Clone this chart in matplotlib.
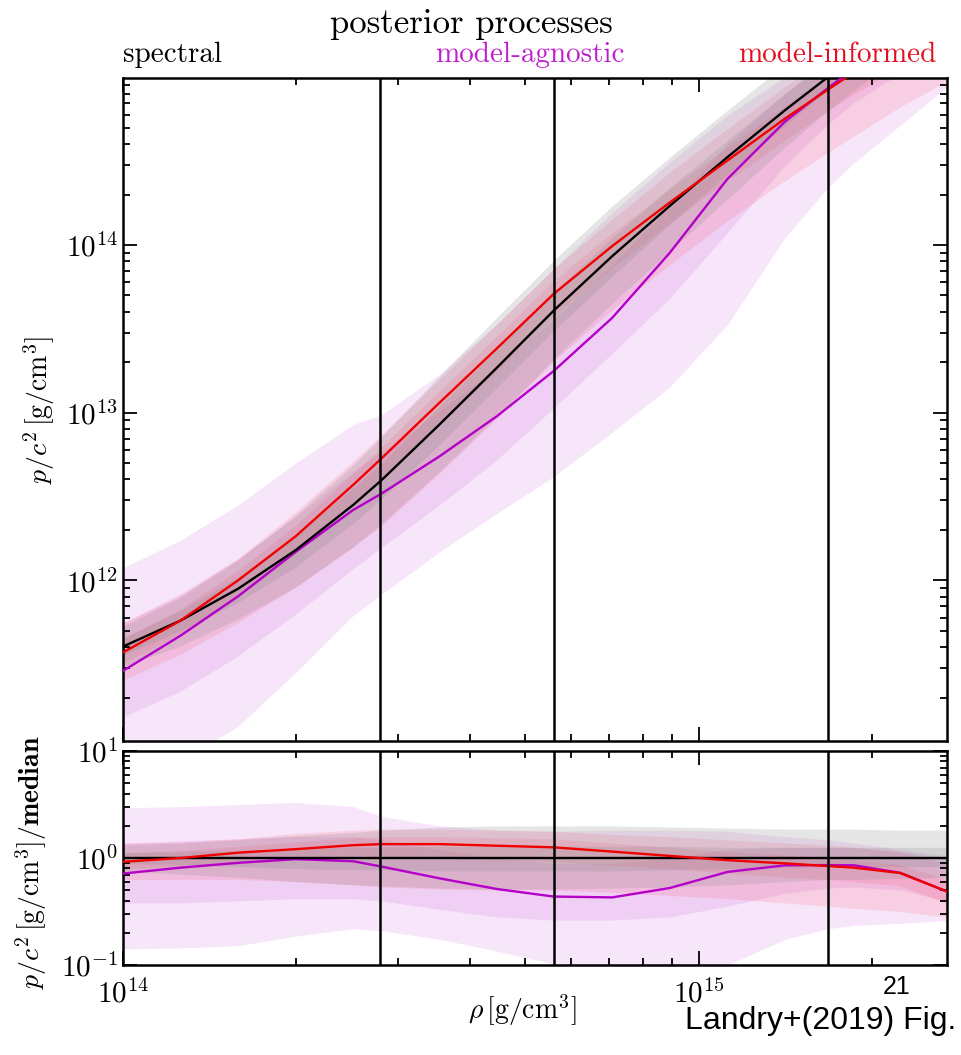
import numpy as np
import matplotlib
matplotlib.use("Agg")
import matplotlib.pyplot as plt

# Computer Modern look for all text on the axes
plt.rcParams.update({
    "font.family": "serif",
    "font.serif": ["cmr10"],
    "mathtext.fontset": "cm",
    "axes.formatter.use_mathtext": True,
    "axes.unicode_minus": False,
})

# density grid, log10(rho [g/cm^3])
log_rho = [14.00, 14.10, 14.20, 14.30, 14.40, 14.449, 14.55, 14.65, 14.748,
           14.85, 14.95, 15.05, 15.15, 15.225, 15.27, 15.35, 15.43]

# spectral median, log10(p/c^2 [g/cm^3])
spec_med = [11.605, 11.760, 11.950, 12.180, 12.450, 12.597, 12.930, 13.270, 13.608,
            13.934, 14.234, 14.524, 14.804, 15.003, 15.120, 15.324, 15.524]

# everything below: log10 of ratio to the spectral median
spec_in_lo = [-0.05, -0.06, -0.08, -0.10, -0.11, -0.11, -0.12, -0.12, -0.12,
              -0.12, -0.11, -0.10, -0.09, -0.08, -0.08, -0.08, -0.08]
spec_in_hi = [0.05, 0.06, 0.07, 0.09, 0.10, 0.10, 0.11, 0.11, 0.11,
              0.11, 0.11, 0.10, 0.10, 0.10, 0.10, 0.10, 0.10]
spec_out_lo = [-0.12, -0.15, -0.18, -0.22, -0.25, -0.26, -0.28, -0.29, -0.29,
               -0.28, -0.27, -0.25, -0.22, -0.20, -0.20, -0.19, -0.18]
spec_out_hi = [0.12, 0.14, 0.17, 0.21, 0.24, 0.26, 0.29, 0.30, 0.30,
               0.30, 0.29, 0.28, 0.27, 0.27, 0.27, 0.26, 0.26]

agn_med = [-0.145, -0.090, -0.045, -0.010, -0.030, -0.080, -0.190, -0.290, -0.360,
           -0.368, -0.280, -0.130, -0.068, -0.066, -0.068, -0.138, -0.310]
agn_in_lo = [-0.42, -0.42, -0.40, -0.38, -0.38, -0.40, -0.48, -0.55, -0.58,
             -0.58, -0.55, -0.45, -0.33, -0.28, -0.27, -0.30, -0.40]
agn_in_hi = [0.14, 0.16, 0.18, 0.20, 0.20, 0.17, 0.08, 0.00, -0.05,
             -0.05, 0.00, 0.08, 0.10, 0.10, 0.10, 0.06, 0.00]
agn_out_lo = [-0.85, -0.84, -0.82, -0.73, -0.66, -0.68, -0.76, -0.87, -0.99,
              -1.05, -1.08, -1.00, -0.76, -0.66, -0.63, -0.61, -0.585]
agn_out_hi = [0.47, 0.48, 0.50, 0.52, 0.48, 0.39, 0.30, 0.26, 0.25,
              0.26, 0.26, 0.25, 0.20, 0.17, 0.14, 0.08, 0.02]

inf_med = [-0.035, 0.000, 0.050, 0.083, 0.120, 0.130, 0.130, 0.115, 0.100,
           0.060, 0.020, -0.020, -0.050, -0.075, -0.090, -0.140, -0.310]
inf_in_lo = [-0.10, -0.08, -0.05, -0.02, 0.00, 0.00, 0.00, -0.02, -0.03,
             -0.07, -0.10, -0.14, -0.18, -0.20, -0.22, -0.26, -0.42]
inf_in_hi = [0.05, 0.07, 0.11, 0.15, 0.19, 0.20, 0.20, 0.19, 0.18,
             0.14, 0.10, 0.06, 0.03, 0.00, -0.02, -0.06, -0.20]
inf_out_lo = [-0.20, -0.20, -0.20, -0.22, -0.25, -0.27, -0.29, -0.30, -0.30,
              -0.32, -0.35, -0.38, -0.42, -0.45, -0.47, -0.50, -0.55]
inf_out_hi = [0.14, 0.15, 0.18, 0.23, 0.26, 0.27, 0.27, 0.26, 0.25,
              0.22, 0.20, 0.17, 0.14, 0.12, 0.10, 0.06, -0.05]

# 1, 2 and 6 times nuclear saturation density
ref_rho = [2.8e14, 5.6e14, 1.68e15]

c_spec = "black"
c_agn = "#b400c8"
c_inf = "#f00000"

rho = 10 ** np.array(log_rho)
p_spec = 10 ** np.array(spec_med)

fig = plt.figure(figsize=(9.61, 10.55), dpi=100)
ax = fig.add_axes([0.128, 0.2976, 0.8574, 0.6284])
axr = fig.add_axes([0.128, 0.0853, 0.8574, 0.2028], sharex=ax)

processes = [
    (agn_out_lo, agn_out_hi, agn_in_lo, agn_in_hi, "#cf5fdc", 0.16),
    (inf_out_lo, inf_out_hi, inf_in_lo, inf_in_hi, "#ff3a4a", 0.13),
    (spec_out_lo, spec_out_hi, spec_in_lo, spec_in_hi, "#8a8a8a", 0.22),
]

for a, scale in [(ax, p_spec), (axr, 1.0)]:
    for olo, ohi, ilo, ihi, col, al in processes:
        a.fill_between(rho, scale * 10 ** np.array(olo), scale * 10 ** np.array(ohi),
                       color=col, alpha=al, lw=0)
        a.fill_between(rho, scale * 10 ** np.array(ilo), scale * 10 ** np.array(ihi),
                       color=col, alpha=al, lw=0)
    a.plot(rho, scale * 10 ** np.array(agn_med), color=c_agn, lw=1.7, zorder=3)
    a.plot(rho, scale * p_spec / p_spec, color=c_spec, lw=1.7, zorder=3)
    a.plot(rho, scale * 10 ** np.array(inf_med), color=c_inf, lw=1.7, zorder=3)
    for r in ref_rho:
        a.axvline(r, color="black", lw=1.8, zorder=4)
    a.set_xscale("log")
    a.set_yscale("log")
    a.tick_params(which="both", direction="in", top=True, right=True,
                  labelsize=21, width=1.3)
    a.tick_params(which="major", length=10)
    a.tick_params(which="minor", length=5)
    for s in a.spines.values():
        s.set_linewidth(1.8)

ax.set_xlim(1e14, 2.7e15)
ax.set_ylim(1.1e11, 9.9e14)
axr.set_ylim(0.1, 10)
ax.tick_params(labelbottom=False)
axr.tick_params(axis="x", which="major", pad=10)

ax.set_ylabel(r"$p/c^2\,[\mathrm{g/cm^3}]$", fontsize=20)
ax.yaxis.set_label_coords(-0.08, 0.5)
axr.set_ylabel(r"$p/c^2\,[\mathrm{g/cm^3}]/\mathbf{median}$", fontsize=20)
axr.yaxis.set_label_coords(-0.09, 0.48)
fig.text(0.543, 1 - 1010 / 1055, r"$\rho\,[\mathrm{g/cm^3}]$", fontsize=20,
         ha="center", va="center")

fig.text(0.49, 0.9687, "posterior processes", fontsize=25, ha="center", va="baseline")
fig.text(0.128, 0.9412, "spectral", fontsize=21, color=c_spec, ha="left", va="baseline")
fig.text(0.5515, 0.9412, "model-agnostic", fontsize=21, color="#c020d0",
         ha="center", va="baseline")
fig.text(0.975, 0.9412, "model-informed", fontsize=21, color="#e01020",
         ha="right", va="baseline")

fig.text(0.713, 0.025, "Landry+(2019) Fig.", fontsize=23, family="Liberation Sans",
         ha="left", va="baseline")
fig.text(0.919, 0.058, "21", fontsize=18, family="Liberation Sans",
         ha="left", va="baseline")

fig.savefig("out.png", dpi=100)
